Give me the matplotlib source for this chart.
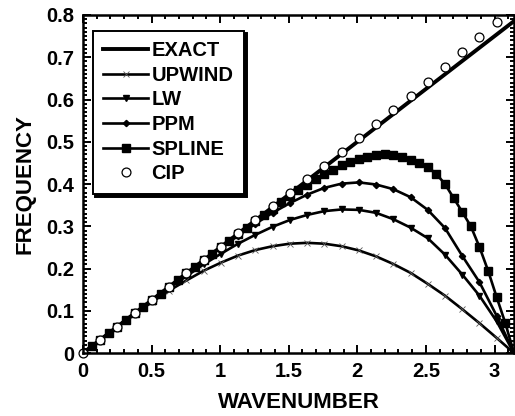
import numpy as np
import matplotlib
matplotlib.use("Agg")
import matplotlib.pyplot as plt
from matplotlib.ticker import MultipleLocator, FormatStrFormatter

plt.rcParams['font.family'] = ['Liberation Sans', 'DejaVu Sans']
plt.rcParams['font.weight'] = 'bold'

# exact dispersion line
k_exact = [0.0, 3.1416]
f_exact = [0.0, 0.7854]

# wavenumbers of the coarse grid (markers of UPWIND, LW, PPM, CIP)
k_grid = [0.000, 0.126, 0.251, 0.377, 0.503, 0.628, 0.754, 0.880, 1.005,
          1.131, 1.257, 1.382, 1.508, 1.634, 1.759, 1.885, 2.011, 2.136,
          2.262, 2.388, 2.513, 2.639, 2.765, 2.890, 3.016, 3.142]

f_upwind = [0.000, 0.031, 0.062, 0.092, 0.121, 0.148, 0.172, 0.195, 0.214,
            0.231, 0.244, 0.253, 0.259, 0.261, 0.259, 0.253, 0.243, 0.229,
            0.211, 0.190, 0.164, 0.136, 0.104, 0.071, 0.036, 0.000]

f_lw = [0.000, 0.031, 0.063, 0.094, 0.124, 0.154, 0.182, 0.210, 0.235,
        0.259, 0.280, 0.299, 0.315, 0.327, 0.336, 0.340, 0.339, 0.332,
        0.317, 0.297, 0.272, 0.233, 0.186, 0.136, 0.075, 0.000]

f_ppm = [0.000, 0.031, 0.063, 0.094, 0.126, 0.157, 0.188, 0.219, 0.249,
         0.278, 0.306, 0.332, 0.355, 0.375, 0.391, 0.401, 0.404, 0.399,
         0.388, 0.369, 0.339, 0.296, 0.230, 0.168, 0.088, 0.000]

# CIP markers (no line)
k_cip = k_grid[:25]
f_cip = [0.000, 0.031, 0.063, 0.094, 0.126, 0.157, 0.189, 0.220, 0.252,
         0.284, 0.315, 0.347, 0.379, 0.411, 0.443, 0.476, 0.509, 0.541,
         0.575, 0.608, 0.642, 0.677, 0.712, 0.747, 0.784]

# SPLINE on the fine grid
k_spline = [0.0000, 0.0628, 0.1257, 0.1885, 0.2513, 0.3142, 0.3770, 0.4398,
            0.5027, 0.5655, 0.6283, 0.6912, 0.7540, 0.8168, 0.8796, 0.9425,
            1.0053, 1.0681, 1.1310, 1.1938, 1.2566, 1.3195, 1.3823, 1.4451,
            1.5080, 1.5708, 1.6336, 1.6965, 1.7593, 1.8221, 1.8850, 1.9478,
            2.0106, 2.0735, 2.1363, 2.1991, 2.2619, 2.3248, 2.3876, 2.4504,
            2.5133, 2.5761, 2.6389, 2.7018, 2.7646, 2.8274, 2.8903, 2.9531,
            3.0159, 3.0788, 3.1416]
f_spline = [0.000, 0.016, 0.031, 0.047, 0.063, 0.079, 0.094, 0.110,
            0.126, 0.141, 0.157, 0.173, 0.189, 0.204, 0.220, 0.235,
            0.251, 0.266, 0.282, 0.297, 0.313, 0.328, 0.342, 0.357,
            0.371, 0.385, 0.398, 0.411, 0.423, 0.434, 0.444, 0.452,
            0.460, 0.465, 0.469, 0.470, 0.469, 0.465, 0.457, 0.449,
            0.440, 0.424, 0.400, 0.367, 0.334, 0.300, 0.251, 0.195,
            0.132, 0.071, 0.000]

fig = plt.figure(figsize=(5.15, 4.16), dpi=100)
ax = fig.add_axes([0.161, 0.151, 0.837, 0.813])

ax.plot(k_exact, f_exact, color='black', lw=2.8, label='EXACT')
ax.plot(k_grid, f_upwind, color='black', lw=1.9, marker='x', ms=5,
        mec='0.35', mew=0.6, label='UPWIND')
ax.plot(k_grid, f_lw, color='black', lw=1.9, marker='v', ms=4.5,
        label='LW')
ax.plot(k_grid, f_ppm, color='black', lw=1.9, marker='D', ms=3.2,
        label='PPM')
ax.plot(k_spline, f_spline, color='black', lw=1.9, marker='s', ms=5.4,
        label='SPLINE')
ax.plot(k_cip, f_cip, ls='none', marker='o', ms=6.4, mfc='white',
        mec='black', mew=0.9, label='CIP', clip_on=False)

ax.set_xlim(0, np.pi)
ax.set_ylim(0, 0.8)
ax.xaxis.set_major_locator(MultipleLocator(0.5))
ax.xaxis.set_minor_locator(MultipleLocator(0.1))
ax.yaxis.set_major_locator(MultipleLocator(0.1))
ax.yaxis.set_minor_locator(MultipleLocator(0.01))
ax.xaxis.set_major_formatter(FormatStrFormatter('%g'))
ax.yaxis.set_major_formatter(FormatStrFormatter('%g'))
ax.tick_params(which='both', direction='in', top=True, right=True,
               labelsize=14.5, width=1.4, pad=6)
ax.tick_params(which='major', length=6)
ax.tick_params(which='minor', length=3)
for s in ax.spines.values():
    s.set_linewidth(1.8)

ax.set_xlabel('WAVENUMBER', fontsize=16, fontweight='bold', labelpad=8)
ax.set_ylabel('FREQUENCY', fontsize=16, fontweight='bold', labelpad=8)

leg = ax.legend(loc='upper left', bbox_to_anchor=(0.0225, 0.954),
                borderaxespad=0, fontsize=14.5, frameon=True,
                fancybox=False, framealpha=1, edgecolor='black',
                numpoints=1, handlelength=2.24, handletextpad=0.16,
                labelspacing=0.28, borderpad=0.53,
                shadow={'color': 'black', 'alpha': 1})
leg.get_frame().set_linewidth(1.4)

fig.savefig('out.png', dpi=100)
